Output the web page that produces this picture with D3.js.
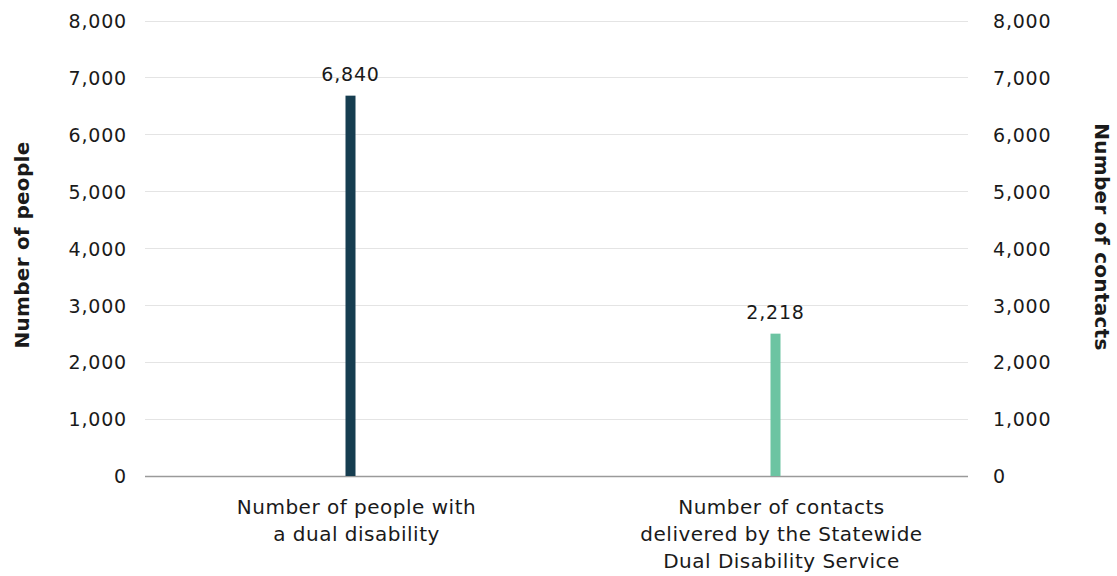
<!DOCTYPE html>
<html>
<head>
<meta charset="utf-8">
<script src="https://cdn.jsdelivr.net/npm/d3@7"></script>
<style>
  body { margin: 0; background: #fff; }
  svg text { font-family: "DejaVu Sans", sans-serif; fill: #1a1a1a; }
</style>
</head>
<body>
<div id="chart"></div>
<script>
// Chart data
var categories = [
    ["Number of people with", "a dual disability"],
    ["Number of contacts", "delivered by the Statewide", "Dual Disability Service"]
];
var barValues = [6680, 2500];          // bar heights as drawn
var valueLabels = ["6,840", "2,218"];  // printed data labels
var barColors = ["#163d50", "#6cc4a2"];
var yTicks = [0, 1000, 2000, 3000, 4000, 5000, 6000, 7000, 8000];

var width = 1117;
var height = 576;

var svg = d3.select("#chart")
    .append("svg")
    .attr("width", width)
    .attr("height", height);

// Scales
var y = d3.scaleLinear()
    .domain([0, 8000])
    .range([476, 20.5]);

var x = d3.scaleBand()
    .domain(d3.range(categories.length))
    .range([138, 988]);

var gridLeft = 145, gridRight = 968;

// Gridlines
svg.append("g")
    .selectAll("line")
    .data(yTicks)
    .enter()
    .append("line")
    .attr("x1", gridLeft)
    .attr("x2", gridRight)
    .attr("y1", function(d) { return Math.round(y(d)) + 0.5; })
    .attr("y2", function(d) { return Math.round(y(d)) + 0.5; })
    .attr("stroke", function(d) { return d === 0 ? "#9a9a9a" : "#e4e4e4"; })
    .attr("stroke-width", function(d) { return d === 0 ? 1.5 : 1; });

// Left axis
var fmt = d3.format(",");
var leftAxis = svg.append("g")
    .attr("transform", "translate(127,0)")
    .call(d3.axisLeft(y).tickValues(yTicks).tickFormat(fmt).tickSize(0).tickPadding(0));
leftAxis.select(".domain").remove();
leftAxis.selectAll("text")
    .style("font-size", "19px")
    .style("letter-spacing", "0.8px")
    .attr("dy", "0.36em");

// Right axis
var rightAxis = svg.append("g")
    .attr("transform", "translate(993,0)")
    .call(d3.axisRight(y).tickValues(yTicks).tickFormat(fmt).tickSize(0).tickPadding(0));
rightAxis.select(".domain").remove();
rightAxis.selectAll("text")
    .style("font-size", "19px")
    .style("letter-spacing", "0.8px")
    .attr("dy", "0.36em");

// Bars
svg.selectAll("rect.bar")
    .data(barValues)
    .enter()
    .append("rect")
    .attr("class", "bar")
    .attr("x", function(d, i) { return x(i) + x.bandwidth() / 2 - 5; })
    .attr("width", 10)
    .attr("y", function(d) { return y(d); })
    .attr("height", function(d) { return y(0) - y(d); })
    .attr("fill", function(d, i) { return barColors[i]; });

// Data labels
svg.selectAll("text.value")
    .data(barValues)
    .enter()
    .append("text")
    .attr("class", "value")
    .attr("x", function(d, i) { return x(i) + x.bandwidth() / 2; })
    .attr("y", function(d) { return y(d) - 15; })
    .attr("text-anchor", "middle")
    .style("font-size", "19px")
    .style("letter-spacing", "0.8px")
    .text(function(d, i) { return valueLabels[i]; });

// Category labels
var cat = svg.selectAll("text.cat")
    .data(categories)
    .enter()
    .append("text")
    .attr("class", "cat")
    .attr("text-anchor", "middle")
    .style("font-size", "20px")
    .style("letter-spacing", "0.5px");

cat.selectAll("tspan")
    .data(function(d, i) { return d.map(function(t) { return { t: t, i: i }; }); })
    .enter()
    .append("tspan")
    .attr("x", function(d) { return x(d.i) + x.bandwidth() / 2 + 6; })
    .attr("y", function(d, j) { return 514 + j * 27; })
    .text(function(d) { return d.t; });

// Axis titles
svg.append("text")
    .attr("transform", "translate(29,245) rotate(-90)")
    .attr("text-anchor", "middle")
    .style("font-size", "20px")
    .style("letter-spacing", "0.3px")
    .style("font-weight", "bold")
    .text("Number of people");

svg.append("text")
    .attr("transform", "translate(1095,237) rotate(90)")
    .attr("text-anchor", "middle")
    .style("font-size", "20px")
    .style("letter-spacing", "0.3px")
    .style("font-weight", "bold")
    .text("Number of contacts");
</script>
</body>
</html>
